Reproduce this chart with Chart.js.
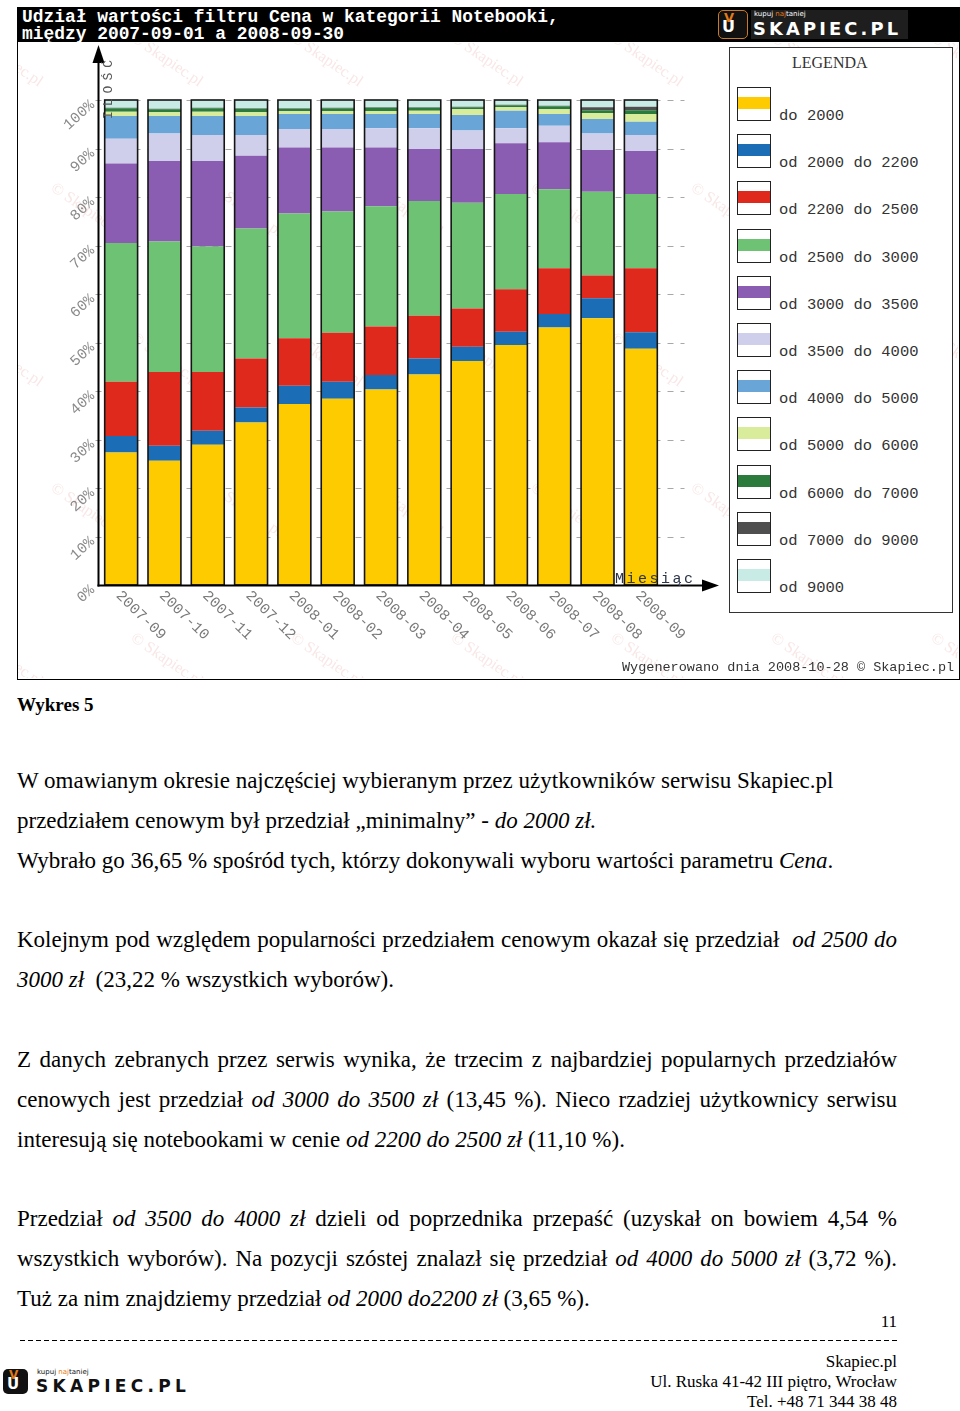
<!DOCTYPE html>
<html><head><meta charset="utf-8">
<script src="https://cdn.jsdelivr.net/npm/chart.js@4/dist/chart.umd.min.js"></script>
<style>
html,body{margin:0;padding:0;background:#fff}
body{width:960px;height:1411px;position:relative;overflow:hidden;font-family:"Liberation Serif","Times New Roman",serif;color:#000}
#box{position:absolute;left:17px;top:7px;width:941px;height:671px;border:1px solid #000;background:#fff}
#titlebar{position:absolute;left:17px;top:7px;width:943px;height:35px;background:#000}
#title{position:absolute;left:5px;top:2px;color:#fff;font:bold 17.9px/16.5px "Liberation Mono",monospace;white-space:pre}
#wrap{position:absolute;left:0;top:0;width:960px;height:690px}
#legend{position:absolute;left:729px;top:47px;width:222px;height:564px;border:1.5px solid #333;background:#fff}
#legend .ttl{position:absolute;left:62px;top:6px;font:16px "Liberation Serif",serif;color:#333}
.item{position:absolute;left:7px;width:215px;height:34px}
.sw{position:absolute;left:0;top:0;width:32px;height:32px;border:1.5px solid #222;background:#fff}
.sw i{position:absolute;left:0;top:9px;width:32px;height:12px}
.lab{position:absolute;left:42px;top:20px;font:15.5px/18px "Liberation Mono",monospace;color:#333;white-space:pre}
#gen{position:absolute;left:622px;top:659px;font:13.5px/18px "Liberation Mono",monospace;color:#333;white-space:pre}
#caption{position:absolute;left:17px;top:694px;font:bold 19px/22px "Liberation Serif",serif}
#txt{position:absolute;left:17px;top:761px;width:880px;font-size:23px;line-height:39.85px;white-space:nowrap}
#txt div{height:39.85px}
#txt .j{text-align:justify;text-align-last:justify}
#pg{position:absolute;left:800px;top:1312px;width:97px;text-align:right;font:17px/20px "Liberation Serif",serif}
#dash{position:absolute;left:20px;top:1340px;width:877px;height:1px;background:repeating-linear-gradient(to right,#000 0 5px,transparent 5px 8px)}
#addr{position:absolute;left:500px;top:1352px;width:397px;text-align:right;font:17px/20px "Liberation Serif",serif}
</style></head>
<body>
<div id="box"></div>
<div id="titlebar"><div id="title">Udział wartości filtru Cena w kategorii Notebooki,
między 2007-09-01 a 2008-09-30</div>
  <div style="position:absolute;left:701px;top:3px;width:28px;height:27px;border:1.5px solid #c87a2a;border-radius:5px;background:#111"></div>
  <div style="position:absolute;left:707px;top:4px;color:#e07a1a;font:bold 13px/14px 'DejaVu Sans'">V</div>
  <div style="position:absolute;left:705px;top:12px;color:#fff;font:bold 16px/16px 'DejaVu Sans'">U</div>
  <div style="position:absolute;left:734px;top:3px;width:157px;height:29px;background:#1e1e1e"></div>
  <div style="position:absolute;left:737px;top:3px;color:#fff;font:7px/8px 'DejaVu Sans'">kupuj <span style="color:#e07a1a">naj</span>taniej</div>
  <div style="position:absolute;left:736px;top:12px;color:#fff;font:bold 17px/20px 'DejaVu Sans';letter-spacing:3px;transform:scaleX(1.05);transform-origin:left">SKAPIEC.PL</div>
</div>
<div id="wrap"><canvas id="cv" width="960" height="690"></canvas></div>
<div id="legend"><div class="ttl">LEGENDA</div></div>
<div id="gen">Wygenerowano dnia 2008-10-28 © Skapiec.pl</div>

<div id="caption">Wykres 5</div>
<div id="txt">
<div>W omawianym okresie najczęściej wybieranym przez użytkowników serwisu Skapiec.pl</div>
<div>przedziałem cenowym był przedział „minimalny” - <i>do 2000 zł.</i></div>
<div>Wybrało go 36,65 % spośród tych, którzy dokonywali wyboru wartości parametru <i>Cena</i>.</div>
<div></div>
<div class="j">Kolejnym pod względem popularności przedziałem cenowym okazał się przedział &nbsp;<i>od 2500 do</i></div>
<div><i>3000 zł</i> &nbsp;(23,22 % wszystkich wyborów).</div>
<div></div>
<div class="j">Z danych zebranych przez serwis wynika, że trzecim z najbardziej popularnych przedziałów</div>
<div class="j">cenowych jest przedział <i>od 3000 do 3500 zł</i> (13,45 %). Nieco rzadziej użytkownicy serwisu</div>
<div>interesują się notebookami w cenie <i>od 2200 do 2500 zł</i> (11,10 %).</div>
<div></div>
<div class="j">Przedział <i>od 3500 do 4000 zł</i> dzieli od poprzednika przepaść (uzyskał on bowiem 4,54 %</div>
<div class="j">wszystkich wyborów). Na pozycji szóstej znalazł się przedział <i>od 4000 do 5000 zł</i> (3,72 %).</div>
<div>Tuż za nim znajdziemy przedział <i>od 2000 do2200 zł</i> (3,65 %).</div>
</div>
<div id="pg">11</div>
<div id="dash"></div>
<div id="addr">Skapiec.pl<br>Ul. Ruska 41-42 III piętro, Wrocław<br>Tel. +48 71 344 38 48</div>

<div style="position:absolute;left:3px;top:1369px;width:25px;height:25px;border-radius:5px;background:#111"></div>
<div style="position:absolute;left:9px;top:1369px;color:#e07a1a;font:bold 12px/13px 'DejaVu Sans'">V</div>
<div style="position:absolute;left:7px;top:1377px;color:#fff;font:bold 15px/15px 'DejaVu Sans'">U</div>
<div style="position:absolute;left:37px;top:1368px;color:#111;font:7px/8px 'DejaVu Sans'">kupuj <span style="color:#e07a1a">naj</span>taniej</div>
<div style="position:absolute;left:36px;top:1376px;color:#111;font:bold 17px/20px 'DejaVu Sans';letter-spacing:4.3px">SKAPIEC.PL</div>

<script>
// ---- data ----
const months = ['2007-09','2007-10','2007-11','2007-12','2008-01','2008-02','2008-03','2008-04','2008-05','2008-06','2008-07','2008-08','2008-09'];
const seriesLabels = ['do 2000','od 2000 do 2200','od 2200 do 2500','od 2500 do 3000','od 3000 do 3500','od 3500 do 4000','od 4000 do 5000','od 5000 do 6000','od 6000 do 7000','od 7000 do 9000','od 9000'];
const do2000       = [27.3,25.6,28.9,33.5,37.3,38.4,40.3,43.4,46.2,49.5,53.1,55.0,48.7];
const od2000do2200 = [3.4,3.1,2.9,3.1,3.8,3.5,3.0,3.3,2.9,2.7,2.8,4.1,3.4];
const od2200do2500 = [11.2,15.2,12.1,10.1,9.8,10.1,10.0,8.8,7.9,8.8,9.4,4.7,13.2];
const od2500do3000 = [28.6,26.9,25.9,26.8,25.7,25.0,24.8,23.7,21.8,19.6,16.3,17.3,15.3];
const od3000do3500 = [16.4,16.6,17.6,15.0,13.6,13.2,12.1,10.7,11.1,10.5,9.7,8.6,8.9];
const od3500do4000 = [5.1,5.7,5.4,4.3,3.8,3.8,4.0,4.3,3.8,3.1,3.4,3.4,3.3];
const od4000do5000 = [4.7,3.6,3.9,3.9,3.1,3.1,2.9,2.9,3.2,3.6,2.4,3.0,2.7];
const od5000do6000 = [0.9,0.8,0.9,0.8,0.6,0.6,0.6,0.7,1.2,0.7,1.0,1.2,1.6];
const od6000do7000 = [0.7,0.6,0.7,0.7,0.5,0.6,0.7,0.6,0.4,0.4,0.6,0.6,0.8];
const od7000do9000 = [0.1,0.1,0.1,0.1,0.1,0.1,0.1,0.1,0.1,0.1,0.1,0.6,0.7];
const od9000       = [1.6,1.8,1.6,1.7,1.7,1.6,1.5,1.5,1.4,1.0,1.2,1.5,1.4];
const yTickValues = [0,10,20,30,40,50,60,70,80,90,100];
const yTickLabels = ['0%','10%','20%','30%','40%','50%','60%','70%','80%','90%','100%'];
const seriesColors = ['#fdcb00','#1b6db5','#e0291d','#6dc273','#8a5db2','#cfcfec','#6aa5d7','#d8ec9c','#2b7b3c','#4f4f4f','#c8ece5'];
const seriesData = [do2000,od2000do2200,od2200do2500,od2500do3000,od3000do3500,od3500do4000,od4000do5000,od5000do6000,od6000do7000,od7000do9000,od9000];

// ---- legend (HTML from arrays) ----
const lg = document.getElementById('legend');
seriesLabels.forEach((l,i)=>{
  const d = document.createElement('div');
  d.className='item'; d.style.top = (39 + i*47.2)+'px';
  d.innerHTML = '<div class="sw"><i style="background:'+seriesColors[i]+'"></i></div><div class="lab">'+l+'</div>';
  lg.appendChild(d);
});

const decor = {
  id:'decor',
  beforeDatasetsDraw(chart){
    const c = chart.ctx, ys = chart.scales.y, xa = chart.chartArea;
    c.save();
    c.beginPath(); c.rect(18,43,940,635); c.clip();
    c.fillStyle='rgba(228,140,140,0.22)'; c.font='16px "Liberation Serif"';
    for(let r=0;r<5;r++){for(let k=0;k<7;k++){
      const x = -30 + k*160 + (r%2)*80, y = 40 + r*150;
      c.save(); c.translate(x,y); c.rotate(0.6); c.fillText('© Skapiec.pl',0,0); c.restore();
    }}
    c.restore();
    c.save();
    c.strokeStyle='#a8a8a8'; c.lineWidth=1; c.setLineDash([6,7]);
    yTickValues.forEach(v=>{ if(v===0) return; const y = Math.round(ys.getPixelForValue(v))+0.5;
      c.beginPath(); c.moveTo(xa.left-4,y); c.lineTo(xa.right+22,y); c.stroke(); });
    c.restore();
  },
  afterDatasetsDraw(chart){
    const c = chart.ctx, ys = chart.scales.y, xs = chart.scales.x, xa = chart.chartArea;
    const n = chart.data.datasets.length;
    const first = chart.getDatasetMeta(0), last = chart.getDatasetMeta(n-1);
    c.save();
    c.strokeStyle='#151515'; c.lineWidth=1.6;
    first.data.forEach((el,i)=>{
      const p = el.getProps(['x','width','base'],true);
      const top = last.data[i].getProps(['y'],true).y;
      c.strokeRect(p.x-p.width/2, top, p.width, p.base-top);
    });
    const y0 = ys.getPixelForValue(0)+0.5, x0 = xa.left-1;
    c.strokeStyle='#000'; c.lineWidth=2;
    c.beginPath(); c.moveTo(x0,y0+1); c.lineTo(x0,58); c.stroke();
    c.beginPath(); c.moveTo(x0-1,y0); c.lineTo(706,y0); c.stroke();
    c.fillStyle='#000';
    c.beginPath(); c.moveTo(x0,45); c.lineTo(x0-6,63); c.lineTo(x0+6,63); c.closePath(); c.fill();
    c.beginPath(); c.moveTo(719,y0); c.lineTo(702,y0-6); c.lineTo(702,y0+6); c.closePath(); c.fill();
    c.fillStyle='#8a8a8a'; c.font='15px "Liberation Mono"'; c.textAlign='right'; c.textBaseline='middle';
    yTickValues.forEach((v,i)=>{ const y = ys.getPixelForValue(v);
      c.save(); c.translate(x0-6, y+3); c.rotate(-0.74); c.fillText(yTickLabels[i],0,0); c.restore(); });
    c.fillStyle='#7a7a7a'; c.textAlign='left';
    months.forEach((m,i)=>{ const x = xs.getPixelForValue(i);
      c.save(); c.translate(x-3, y0+8); c.rotate(0.77); c.fillText(m,0,0); c.restore(); });
    c.fillStyle='#2b3448'; c.font='15px "Liberation Mono"'; c.textAlign='left'; c.textBaseline='alphabetic';
    c.letterSpacing='2.5px'; c.fillText('Miesiąc', 615, y0-3);
    c.save(); c.translate(112, 119); c.rotate(-Math.PI/2); c.font='13px "Liberation Mono"'; c.letterSpacing='5px'; c.fillStyle='#555'; c.fillText('ILOŚĆ',0,0); c.restore();
    c.restore();
  }
};

new Chart(document.getElementById('cv'), {
  type:'bar',
  data:{ labels: months,
    datasets: seriesData.map((d,i)=>({label:seriesLabels[i], data:d, backgroundColor:seriesColors[i], borderWidth:0, barPercentage:0.76, categoryPercentage:1})) },
  options:{ responsive:false, animation:false, devicePixelRatio:1,
    layout:{padding:{left:99.5,right:297.5,top:100,bottom:105}},
    plugins:{legend:{display:false}, tooltip:{enabled:false}},
    scales:{ x:{stacked:true, display:false}, y:{stacked:true, display:false, min:0, max:100} } },
  plugins:[decor]
});
</script>
</body></html>
